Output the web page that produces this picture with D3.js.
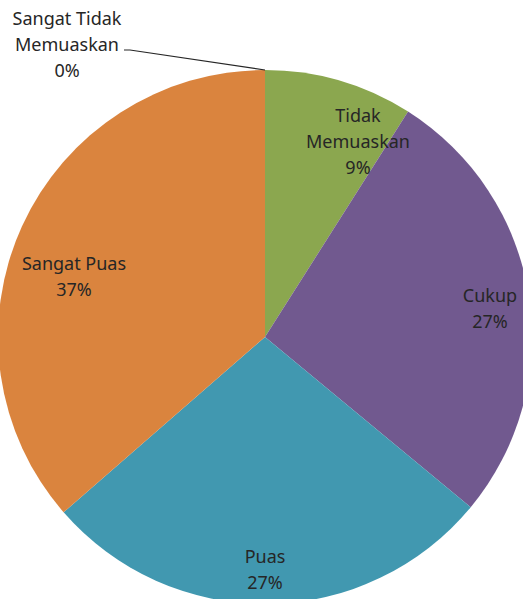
<!DOCTYPE html>
<html>
<head>
<meta charset="utf-8">
<script src="https://cdn.jsdelivr.net/npm/d3@7"></script>
<style>
  html, body { margin: 0; padding: 0; background: #fff; }
  #chart { width: 523px; height: 599px; }
</style>
</head>
<body>
<div id="chart"></div>
<script>
// data (slice shares; labels as printed)
const categories = ["Sangat Tidak Memuaskan", "Tidak Memuaskan", "Cukup", "Puas", "Sangat Puas"];
const values = [0, 9, 27, 27.6, 36.4];
const labelLines = [
  ["Sangat Tidak", "Memuaskan", "0%"],
  ["Tidak", "Memuaskan", "9%"],
  ["Cukup", "27%"],
  ["Puas", "27%"],
  ["Sangat Puas", "37%"]
];

const colors = ["#4a7ebb", "#8ba74f", "#71598f", "#4198b0", "#da843e"];

// label block centre, offset from pie centre (px)
const labelOffset = [
  [-198, -286],
  [93, -189],
  [225, -22],
  [0, 239],
  [-191, -54]
];

const width = 523, height = 599;
const cx = 265, cy = 337, radius = 267;
const lineH = 26;

const svg = d3.select("#chart").append("svg")
  .attr("width", width)
  .attr("height", height);

const g = svg.append("g").attr("transform", `translate(${cx},${cy})`);

const pie = d3.pie().sort(null).value(d => d.value);
const arc = d3.arc().innerRadius(0).outerRadius(radius);

const slices = pie(categories.map((c, i) => ({ name: c, value: values[i], i })));

g.selectAll("path.slice")
  .data(slices)
  .join("path")
  .attr("class", "slice")
  .attr("d", arc)
  .attr("fill", d => colors[d.data.i]);

// leader line for the zero slice
const zero = slices[0];
const edge = [Math.sin(zero.startAngle) * radius, -Math.cos(zero.startAngle) * radius];
const lo = labelOffset[0];
g.append("polyline")
  .attr("points", [[lo[0] + 57, lo[1] - 1], [lo[0] + 63, lo[1] - 1], edge].map(p => p.join(",")).join(" "))
  .attr("fill", "none")
  .attr("stroke", "#262626")
  .attr("stroke-width", 1.2);

// labels
slices.forEach((s, k) => {
  const lines = labelLines[k];
  const [ox, oy] = labelOffset[k];
  const t = g.append("text")
    .attr("text-anchor", "middle")
    .attr("font-family", "'Noto Sans', sans-serif")
    .attr("font-size", "18px")
    .attr("fill", "#262626");
  const y0 = oy - (lines.length - 1) * lineH / 2;
  lines.forEach((ln, j) => {
    t.append("tspan")
      .attr("x", ox)
      .attr("y", y0 + j * lineH)
      .text(ln);
  });
});
</script>
</body>
</html>
